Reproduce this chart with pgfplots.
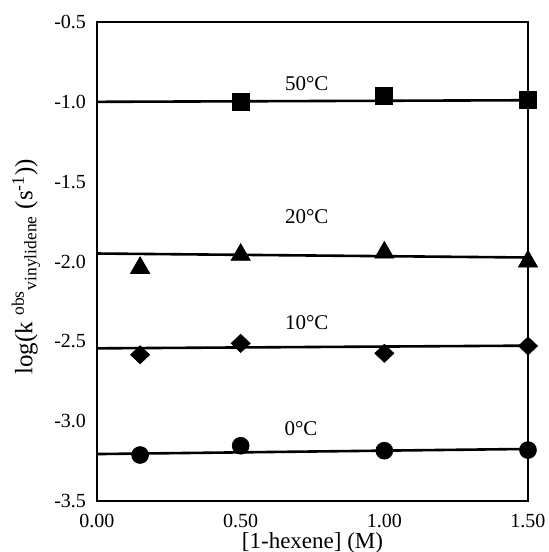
\documentclass[border=0pt]{standalone}
\usepackage{fontspec}
\setmainfont{Liberation Serif}
\usepackage{pgfplots}
\pgfplotsset{compat=1.18}
\begin{document}
\begin{tikzpicture}
\begin{axis}[
    width=215.5pt, height=239.5pt, scale only axis,
    xmin=0, xmax=1.5, ymin=-3.5, ymax=-0.5,
    xtick={0,0.5,1,1.5},
    ytick={-3.5,-3,-2.5,-2,-1.5,-1,-0.5},
    axis line style={line width=1.3pt},
    major tick length=0pt,
    tick label style={font=\fontsize{10}{11}\selectfont},
    /pgf/number format/assume math mode=true,
    x tick label style={yshift=-3pt, /pgf/number format/fixed, /pgf/number format/fixed zerofill, /pgf/number format/precision=2},
    y tick label style={xshift=-2pt, /pgf/number format/fixed, /pgf/number format/fixed zerofill, /pgf/number format/precision=1},
    xlabel={[1-hexene] (M)},
    ylabel={log(k \textsuperscript{obs}\textsubscript{vinylidene} (s\textsuperscript{-1}))},
    xlabel style={font=\fontsize{11.5}{12}\selectfont, inner sep=0pt, at={(axis description cs:0.5,-0.087)}, anchor=center},
    ylabel style={font=\fontsize{12.5}{14}\selectfont, at={(axis description cs:-0.165,0.489)}, anchor=center},
    clip=false,
]
\coordinate (O) at (rel axis cs:0,0);

% fitted lines
\addplot[black, no marks, line width=1.3pt] coordinates {(0,-1.0)(1.5,-0.99)};
\addplot[black, no marks, line width=1.3pt] coordinates {(0,-1.95)(1.5,-1.975)};
\addplot[black, no marks, line width=1.3pt] coordinates {(0,-2.544)(1.5,-2.527)};
\addplot[black, no marks, line width=1.3pt] coordinates {(0,-3.206)(1.5,-3.174)};

% 50 C
\addplot[black, only marks, mark=square*, mark size=4.25pt] coordinates {(0.5,-1.00)(1.0,-0.962)(1.5,-0.985)};
% 20 C
\addplot[black, only marks, mark=triangle*, mark size=5.5pt] coordinates {(0.15,-2.04)(0.5,-1.958)(1.0,-1.944)(1.5,-2.0)};
% 10 C
\addplot[black, only marks, mark=diamond*, mark size=4.5pt, mark options={xscale=1.4}] coordinates {(0.15,-2.584)(0.5,-2.513)(1.0,-2.575)(1.5,-2.529)};
% 0 C
\addplot[black, only marks, mark=*, mark size=4.2pt] coordinates {(0.15,-3.212)(0.5,-3.154)(1.0,-3.185)(1.5,-3.181)};

\node[font=\fontsize{10.5}{12}\selectfont] at (axis cs:0.73,-0.884) {50°C};
\node[font=\fontsize{10.5}{12}\selectfont] at (axis cs:0.73,-1.72) {20°C};
\node[font=\fontsize{10.5}{12}\selectfont] at (axis cs:0.73,-2.38) {10°C};
\node[font=\fontsize{10.5}{12}\selectfont] at (axis cs:0.71,-3.045) {0°C};
\end{axis}
\pgfresetboundingbox
\path (O) ++(-48.5pt,-25.5pt) rectangle ++(274pt,276pt);
\end{tikzpicture}
\end{document}
